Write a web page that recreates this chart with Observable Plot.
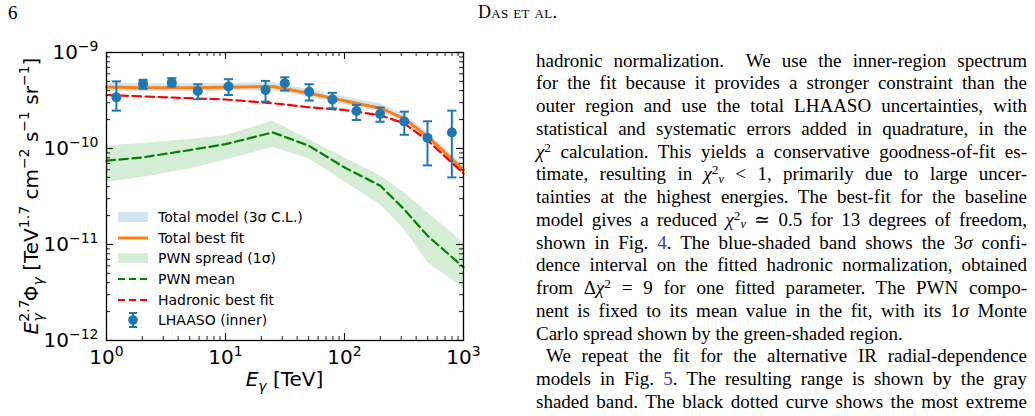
<!DOCTYPE html>
<html><head><meta charset="utf-8">
<script src="https://cdn.jsdelivr.net/npm/d3@7"></script>
<script src="https://cdn.jsdelivr.net/npm/@observablehq/plot@0.6"></script>
<style>
html,body{margin:0;padding:0;background:#fff;}
body{width:1035px;height:416px;position:relative;overflow:hidden;}
#chart{position:absolute;left:0;top:0;width:480px;}
.serif{font-family:"Liberation Serif","Times New Roman",serif;color:#000;}
#pagenum{position:absolute;left:8px;top:2px;font-size:19px;}
#runhead{position:absolute;left:478px;top:2px;font-size:18px;font-variant:small-caps;letter-spacing:0.3px;}
#col{position:absolute;left:536px;top:0;width:491px;height:416px;font-size:19px;}
.ln{position:absolute;left:0;width:491px;height:23px;line-height:23px;text-align:justify;text-align-last:justify;}
.ln.last{text-align-last:left;}
.ln.ind{text-indent:10px;}
.m{font-style:italic;}
.sp{position:relative;top:-0.45em;font-size:0.7em;line-height:0;}
.sb{position:relative;top:0.22em;font-size:0.65em;line-height:0;}
.lk{color:#3a3ab0;}
#legend{position:absolute;left:0;top:0;font-family:"DejaVu Sans",sans-serif;font-size:14px;}
.lg{position:absolute;left:116px;height:20px;display:flex;align-items:center;white-space:nowrap;}
.lg svg{width:34px;height:20px;margin-right:8px;}
</style>
</head><body>
<div id="chart"></div>
<div id="pagenum" class="serif">6</div>
<div id="runhead" class="serif">Das et al.</div>
<div id="col" class="serif"></div>
<div id="legend"></div>
<script>
// ---------- data ----------
const energyGrid   = [1, 2, 5, 10, 25, 50, 100, 200, 316, 500, 1000];
const totalBest    = [4.36e-10, 4.30e-10, 4.30e-10, 4.35e-10, 4.43e-10, 3.76e-10, 3.15e-10, 2.63e-10, 2.06e-10, 1.33e-10, 6.0e-11];
const totalLow     = [3.95e-10, 3.92e-10, 3.92e-10, 3.96e-10, 4.02e-10, 3.42e-10, 2.88e-10, 2.40e-10, 1.88e-10, 1.21e-10, 5.4e-11];
const totalHigh    = [4.78e-10, 4.70e-10, 4.70e-10, 4.75e-10, 4.85e-10, 4.12e-10, 3.45e-10, 2.90e-10, 2.28e-10, 1.47e-10, 6.7e-11];
const hadronicBest = [3.61e-10, 3.49e-10, 3.34e-10, 3.24e-10, 2.96e-10, 2.69e-10, 2.52e-10, 2.22e-10, 1.83e-10, 1.21e-10, 5.5e-11];
const pwnMean      = [7.46e-11, 8.07e-11, 9.63e-11, 1.11e-10, 1.47e-10, 1.07e-10, 6.35e-11, 4.09e-11, 2.34e-11, 1.23e-11, 5.8e-12];
const pwnLow       = [4.43e-11, 5.0e-11, 6.1e-11, 7.58e-11, 1.03e-10, 7.83e-11, 4.5e-11, 2.59e-11, 1.45e-11, 6.5e-12, 3.5e-12];
const pwnHigh      = [1.07e-10, 1.13e-10, 1.24e-10, 1.36e-10, 1.93e-10, 1.24e-10, 8.0e-11, 5.2e-11, 3.48e-11, 2.15e-11, 1.05e-11];

const lhaasoE    = [1.21, 2.03, 3.54, 5.85, 10.6, 21.7, 31.5, 50.5, 79.2, 126, 199, 318, 498, 798];
const lhaasoFlux = [3.41e-10, 4.71e-10, 4.83e-10, 3.98e-10, 4.42e-10, 4.07e-10, 4.79e-10, 3.89e-10, 3.24e-10, 2.46e-10, 2.29e-10, 1.91e-10, 1.29e-10, 1.47e-10];
const lhaasoHigh = [5.0e-10, 5.2e-10, 5.4e-10, 4.67e-10, 5.27e-10, 5.06e-10, 5.52e-10, 4.67e-10, 3.80e-10, 2.85e-10, 2.67e-10, 2.42e-10, 1.92e-10, 2.48e-10];
const lhaasoLow  = [2.48e-10, 4.18e-10, 4.42e-10, 3.26e-10, 3.61e-10, 3.08e-10, 4.01e-10, 3.16e-10, 2.62e-10, 1.98e-10, 1.90e-10, 1.39e-10, 6.67e-11, 5.0e-11];

const xMajorTicks = [1, 10, 100, 1000];
const yMajorTicks = [1e-12, 1e-11, 1e-10, 1e-9];
const legendLabels = ["Total model (3σ C.L.)", "Total best fit", "PWN spread (1σ)", "PWN mean", "Hadronic best fit", "LHAASO (inner)"];

// ---------- build ----------
const grid = energyGrid.map((E, i) => ({E, best: totalBest[i], lo: totalLow[i], hi: totalHigh[i],
  had: hadronicBest[i], pwn: pwnMean[i], pwnLo: pwnLow[i], pwnHi: pwnHigh[i]}));
const pts = lhaasoE.map((E, i) => ({E, v: lhaasoFlux[i], lo: lhaasoLow[i], hi: lhaasoHigh[i]}));
const xMinor = d3.range(0, 3).flatMap(k => d3.range(2, 10).map(m => m * 10 ** k));
const yMinor = d3.range(-12, -9).flatMap(k => d3.range(2, 10).map(m => m * 10 ** k));

const W = 480, H = 400, L = 106, R = 463, T = 52, B = 340;
const FW = R - L, FH = B - T;
const C0 = "#1f77b4";
const cap = {draw(ctx, size) { const w = Math.sqrt(size); ctx.moveTo(-w / 2, 0); ctx.lineTo(w / 2, 0); }};
const sup = n => "10^" + String(Math.round(Math.log10(n))).replace("-", "−");

const chart = Plot.plot({
  width: W, height: H,
  marginLeft: L, marginRight: W - R, marginTop: T, marginBottom: H - B,
  x: {type: "log", domain: [1, 1000]},
  y: {type: "log", domain: [1e-12, 1e-9]},
  style: {fontFamily: "DejaVu Sans", fontSize: "20px", color: "black", background: "transparent"},
  marks: [
    Plot.areaY(grid, {x: "E", y1: "lo", y2: "hi", fill: "#d2e4f0"}),
    Plot.line(grid, {x: "E", y: "best", stroke: "#ff7f0e", strokeWidth: 3}),
    Plot.areaY(grid, {x: "E", y1: "pwnLo", y2: "pwnHi", fill: "#d5ecd5"}),
    Plot.line(grid, {x: "E", y: "pwn", stroke: "#008000", strokeWidth: 2.2, strokeDasharray: "8.5,4.5"}),
    Plot.line(grid, {x: "E", y: "had", stroke: "#ff0000", strokeWidth: 2.2, strokeDasharray: "8.5,4.5"}),
    Plot.ruleX(pts, {x: "E", y1: "lo", y2: "hi", stroke: C0, strokeWidth: 2}),
    Plot.dot(pts, {x: "E", y: "lo", symbol: cap, r: 5.2, stroke: C0, strokeWidth: 2}),
    Plot.dot(pts, {x: "E", y: "hi", symbol: cap, r: 5.2, stroke: C0, strokeWidth: 2}),
    Plot.dot(pts, {x: "E", y: "v", r: 5, fill: C0, stroke: "none"}),
    // inward ticks on all four sides
    Plot.tickX(xMajorTicks, {x: d => d, insetTop: FH - 7, stroke: "black", strokeWidth: 1.1}),
    Plot.tickX(xMajorTicks, {x: d => d, insetBottom: FH - 7, stroke: "black", strokeWidth: 1.1}),
    Plot.tickX(xMinor, {x: d => d, insetTop: FH - 4, stroke: "black", strokeWidth: 0.9}),
    Plot.tickX(xMinor, {x: d => d, insetBottom: FH - 4, stroke: "black", strokeWidth: 0.9}),
    Plot.tickY(yMajorTicks, {y: d => d, insetRight: FW - 7, stroke: "black", strokeWidth: 1.1}),
    Plot.tickY(yMajorTicks, {y: d => d, insetLeft: FW - 7, stroke: "black", strokeWidth: 1.1}),
    Plot.tickY(yMinor, {y: d => d, insetRight: FW - 4, stroke: "black", strokeWidth: 0.9}),
    Plot.tickY(yMinor, {y: d => d, insetLeft: FW - 4, stroke: "black", strokeWidth: 0.9}),
    Plot.frame({stroke: "black", strokeWidth: 1.3}),
    Plot.axisX(xMajorTicks, {tickSize: 0, tickPadding: 9, tickFormat: sup, label: null, fontSize: 20}),
    Plot.axisY(yMajorTicks, {tickSize: 0, tickPadding: 8, tickFormat: sup, label: null, fontSize: 20})
  ]
});
document.getElementById("chart").append(chart);

// superscript exponents in tick labels
const NS = "http://www.w3.org/2000/svg";
chart.querySelectorAll('[aria-label$="tick label"] text').forEach(t => {
  const [base, ex] = t.textContent.split("^");
  t.textContent = "";
  const a = document.createElementNS(NS, "tspan"); a.textContent = base;
  const b = document.createElementNS(NS, "tspan"); b.textContent = ex;
  b.setAttribute("font-size", "14"); b.setAttribute("dy", "-8");
  t.append(a, b);
});

// axis titles
const svg = d3.select(chart);
const xl = svg.append("text").attr("x", (L + R) / 2).attr("y", 386).attr("text-anchor", "middle")
  .attr("font-size", 20).attr("font-family", "DejaVu Sans").attr("fill", "black");
xl.append("tspan").attr("font-style", "italic").text("E");
xl.append("tspan").attr("font-style", "italic").attr("font-size", 14).attr("dy", 5).text("γ");
xl.append("tspan").attr("dy", -5).text(" [TeV]");

const yl = svg.append("text").attr("transform", `translate(38,${(T + B) / 2}) rotate(-90)`)
  .attr("text-anchor", "middle").attr("font-size", 20).attr("font-family", "DejaVu Sans").attr("fill", "black");
yl.append("tspan").attr("font-style", "italic").text("E");
yl.append("tspan").attr("font-size", 14).attr("dy", -9).text("2.7");
yl.append("tspan").attr("font-style", "italic").attr("font-size", 14).attr("dx", -22).attr("dy", 14).text("γ");
yl.append("tspan").attr("dx", 0).attr("dy", -5).text("\u2009\u2009\u2009Φ");
yl.append("tspan").attr("font-style", "italic").attr("font-size", 14).attr("dy", 5).text("γ");
yl.append("tspan").attr("dy", -5).text(" [TeV");
yl.append("tspan").attr("font-size", 14).attr("dy", -9).text("1.7");
yl.append("tspan").attr("dy", 9).text(" cm");
yl.append("tspan").attr("font-size", 14).attr("dy", -9).text("−2");
yl.append("tspan").attr("dy", 9).text(" s");
yl.append("tspan").attr("font-size", 14).attr("dy", -9).text("−1");
yl.append("tspan").attr("dy", 9).text(" sr");
yl.append("tspan").attr("font-size", 14).attr("dy", -9).text("−1");
yl.append("tspan").attr("dy", 9).text("]");

// legend
const lgCenters = [217, 237.5, 258, 279, 299.5, 320];
const swatches = [
  `<rect x="2" y="5" width="30" height="10" fill="#d2e4f0"/>`,
  `<line x1="2" x2="32" y1="10" y2="10" stroke="#ff7f0e" stroke-width="3"/>`,
  `<rect x="2" y="5" width="30" height="10" fill="#d5ecd5"/>`,
  `<line x1="2" x2="32" y1="10" y2="10" stroke="#008000" stroke-width="2.2" stroke-dasharray="7,4"/>`,
  `<line x1="2" x2="32" y1="10" y2="10" stroke="#ff0000" stroke-width="2.2" stroke-dasharray="7,4"/>`,
  `<line x1="17" x2="17" y1="3" y2="17" stroke="${C0}" stroke-width="2"/><line x1="13" x2="21" y1="3" y2="3" stroke="${C0}" stroke-width="2"/><line x1="13" x2="21" y1="17" y2="17" stroke="${C0}" stroke-width="2"/><circle cx="17" cy="10" r="4.8" fill="${C0}"/>`
];
const lg = document.getElementById("legend");
legendLabels.forEach((lab, i) => {
  const d = document.createElement("div");
  d.className = "lg"; d.style.top = (lgCenters[i] - 10) + "px";
  d.innerHTML = `<svg viewBox="0 0 34 20">${swatches[i]}</svg><span>${lab}</span>`;
  lg.append(d);
});

// right-hand column text
const chi = `<span class="m">χ</span>`;
const chi2 = `${chi}<span class="sp">2</span>`;
const chi2nu = `${chi}<span class="sp">2</span><span class="sb m">ν</span>`;
const lines = [
  ["hadronic normalization.&nbsp; We use the inner-region spectrum", ""],
  ["for the fit because it provides a stronger constraint than the", ""],
  ["outer region and use the total LHAASO uncertainties, with", ""],
  ["statistical and systematic errors added in quadrature, in the", ""],
  [`${chi2} calculation. This yields a conservative goodness-of-fit es-`, ""],
  [`timate, resulting in ${chi2nu} &lt; 1, primarily due to large uncer-`, ""],
  ["tainties at the highest energies. The best-fit for the baseline", ""],
  [`model gives a reduced ${chi2nu} ≃ 0.5 for 13 degrees of freedom,`, ""],
  [`shown in Fig. <span class="lk">4</span>. The blue-shaded band shows the 3<span class="m">σ</span> confi-`, ""],
  ["dence interval on the fitted hadronic normalization, obtained", ""],
  [`from Δ${chi2} = 9 for one fitted parameter. The PWN compo-`, ""],
  [`nent is fixed to its mean value in the fit, with its 1<span class="m">σ</span> Monte`, ""],
  ["Carlo spread shown by the green-shaded region.", "last"],
  ["We repeat the fit for the alternative IR radial-dependence", "ind"],
  [`models in Fig. <span class="lk">5</span>. The resulting range is shown by the gray`, ""],
  ["shaded band. The black dotted curve shows the most extreme", ""]
];
const col = document.getElementById("col");
lines.forEach(([html, cls], i) => {
  const d = document.createElement("div");
  d.className = "ln " + cls;
  d.style.top = (48.5 + 22.75 * i) + "px";
  d.innerHTML = html;
  col.append(d);
});
</script>
</body></html>
